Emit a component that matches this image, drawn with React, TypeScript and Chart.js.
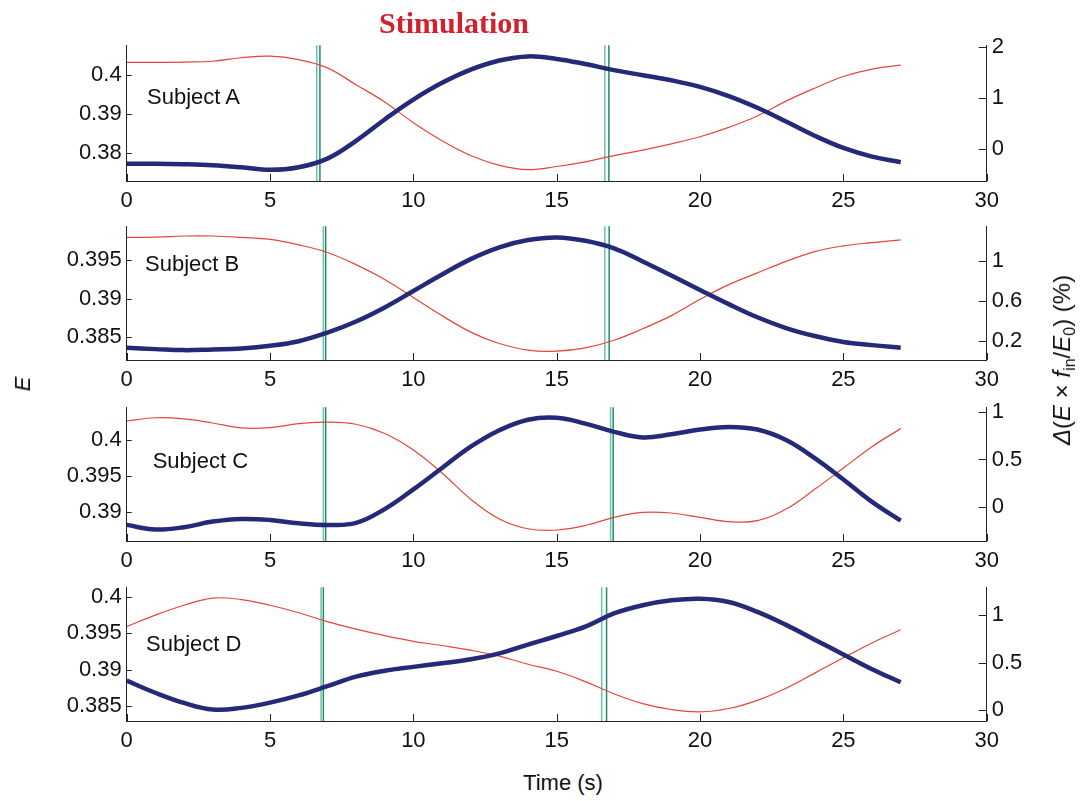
import React, { useEffect, useRef } from "react";
import { Chart, registerables } from "chart.js";
Chart.register(...registerables);

// ---- data ----
const TIME = [0, 1, 2, 3, 4, 5, 6, 7, 8, 9, 10, 11, 12, 13, 14, 15, 16, 17, 18, 19, 20, 21, 22, 23, 24, 25, 26, 27];

const E_A = [0.4032, 0.4032, 0.4033, 0.4035, 0.4044, 0.4048, 0.4039, 0.4018, 0.3975, 0.3931, 0.3878, 0.3832, 0.3794, 0.3769, 0.3758, 0.3766, 0.3778, 0.3794, 0.3808, 0.3824, 0.3842, 0.3866, 0.3895, 0.3933, 0.3966, 0.3996, 0.4015, 0.4025];
const D_A = [-0.29, -0.29, -0.3, -0.32, -0.36, -0.41, -0.36, -0.19, 0.16, 0.58, 0.97, 1.3, 1.56, 1.74, 1.82, 1.77, 1.67, 1.55, 1.45, 1.35, 1.22, 1.04, 0.81, 0.54, 0.26, 0.02, -0.15, -0.26];

const E_B = [0.39791, 0.39794, 0.39809, 0.39809, 0.39791, 0.39765, 0.39694, 0.39596, 0.39439, 0.39247, 0.39013, 0.38779, 0.38566, 0.38418, 0.38333, 0.3832, 0.38362, 0.3846, 0.3861, 0.38779, 0.3899, 0.3918, 0.39332, 0.39481, 0.39608, 0.39681, 0.39723, 0.39758];
const D_B = [0.129, 0.116, 0.106, 0.113, 0.123, 0.149, 0.195, 0.281, 0.393, 0.534, 0.699, 0.864, 1.018, 1.136, 1.209, 1.235, 1.202, 1.126, 0.995, 0.854, 0.709, 0.567, 0.435, 0.327, 0.247, 0.188, 0.156, 0.129];

const E_C = [0.40263, 0.40308, 0.40294, 0.40236, 0.40168, 0.40172, 0.40226, 0.40249, 0.40218, 0.4009, 0.39864, 0.39545, 0.39183, 0.3891, 0.38774, 0.38757, 0.38819, 0.38932, 0.39, 0.38992, 0.38932, 0.38873, 0.38887, 0.39046, 0.39319, 0.39613, 0.39909, 0.40158];
const D_C = [-0.191, -0.24, -0.215, -0.156, -0.128, -0.139, -0.174, -0.191, -0.17, -0.024, 0.184, 0.41, 0.635, 0.809, 0.92, 0.94, 0.878, 0.792, 0.733, 0.767, 0.816, 0.844, 0.816, 0.705, 0.514, 0.288, 0.052, -0.146];

const E_D = [0.39595, 0.39752, 0.39887, 0.39986, 0.39964, 0.39887, 0.39784, 0.39662, 0.39558, 0.39469, 0.39392, 0.39334, 0.3927, 0.39189, 0.39077, 0.3898, 0.38838, 0.38671, 0.38536, 0.38455, 0.38423, 0.38469, 0.38581, 0.38747, 0.38955, 0.39166, 0.39369, 0.3955];
const D_D = [0.31, 0.183, 0.076, 0.007, 0.024, 0.079, 0.155, 0.252, 0.352, 0.414, 0.455, 0.493, 0.535, 0.597, 0.69, 0.78, 0.879, 1.017, 1.103, 1.155, 1.172, 1.138, 1.034, 0.897, 0.741, 0.586, 0.431, 0.293];

const STIM_A = [6.63, 6.74, 16.68, 16.82];
const STIM_B = [6.86, 6.94, 16.68, 16.83];
const STIM_C = [6.86, 6.94, 16.88, 16.97];
const STIM_D = [6.78, 6.86, 16.57, 16.74];

const X_TICKS = [0, 5, 10, 15, 20, 25, 30];
const LEFT_TICKS_A = [0.38, 0.39, 0.4];
const LEFT_TICKS_B = [0.385, 0.39, 0.395];
const LEFT_TICKS_C = [0.39, 0.395, 0.4];
const LEFT_TICKS_D = [0.385, 0.39, 0.395, 0.4];
const RIGHT_TICKS_A = [0, 1, 2];
const RIGHT_TICKS_B = [0.2, 0.6, 1];
const RIGHT_TICKS_C = [0, 0.5, 1];
const RIGHT_TICKS_D = [0, 0.5, 1];

const LEFT_RANGE_A = [0.3729, 0.4076];
const LEFT_RANGE_B = [0.38205, 0.39936];
const LEFT_RANGE_C = [0.38605, 0.40454];
const LEFT_RANGE_D = [0.38297, 0.40135];
const RIGHT_RANGE_A = [-0.63, 2.04];
const RIGHT_RANGE_B = [0.007, 1.348];
const RIGHT_RANGE_C = [-0.361, 1.052];
const RIGHT_RANGE_D = [-0.114, 1.293];

const SUBJECTS = ["Subject A", "Subject B", "Subject C", "Subject D"];

// ---- style ----
const RED = "#e5463a";
const BLUE = "#242a78";
const AXIS = "#222222";
const STIM_COLORS = ["#6cc0b3", "#1f8b60"];
const FONT = "'Liberation Sans', Arial, Helvetica, sans-serif";
const PADT = 16;
const XAX = 34;
const LEFT_W = 126.7;
const RIGHT_W = 93.3;

type PanelProps = {
  e: number[];
  d: number[];
  stim: number[];
  lt: number[];
  rt: number[];
  lr: number[];
  rr: number[];
  top: number;
  height: number;
};

const stimPlugin = (stim: number[]) => ({
  id: "stim",
  beforeDatasetsDraw(chart: any) {
    const { ctx, chartArea, scales } = chart;
    ctx.save();
    ctx.lineWidth = 1.5;
    stim.forEach((v, i) => {
      const px = scales.x.getPixelForValue(v);
      ctx.strokeStyle = STIM_COLORS[i % 2];
      ctx.beginPath();
      ctx.moveTo(px, chartArea.top);
      ctx.lineTo(px, chartArea.bottom);
      ctx.stroke();
    });
    ctx.restore();
  },
});

const tickPlugin = {
  id: "inticks",
  afterDraw(chart: any) {
    const { ctx, scales } = chart;
    const { x, yL, yR } = scales;
    ctx.save();
    ctx.strokeStyle = AXIS;
    ctx.lineWidth = 1;
    ctx.beginPath();
    x.ticks.forEach((t: any) => {
      const px = Math.round(x.getPixelForValue(t.value)) + 0.5;
      ctx.moveTo(px, x.top);
      ctx.lineTo(px, x.top - 7);
    });
    yL.ticks.forEach((t: any) => {
      const py = Math.round(yL.getPixelForValue(t.value)) + 0.5;
      ctx.moveTo(yL.right, py);
      ctx.lineTo(yL.right + 5, py);
    });
    yR.ticks.forEach((t: any) => {
      const py = Math.round(yR.getPixelForValue(t.value)) + 0.5;
      ctx.moveTo(yR.left, py);
      ctx.lineTo(yR.left - 8, py);
    });
    ctx.stroke();
    ctx.restore();
  },
};

function Panel(p: PanelProps) {
  const ref = useRef<HTMLCanvasElement | null>(null);
  useEffect(() => {
    if (!ref.current) return;
    const tickFont = { family: FONT, size: 22 };
    const chart = new Chart(ref.current, {
      type: "line",
      data: {
        datasets: [
          {
            data: TIME.map((t, i) => ({ x: t, y: p.d[i] })),
            yAxisID: "yR",
            borderColor: BLUE,
            borderWidth: 4.5,
            pointRadius: 0,
            tension: 0.4,
            fill: false,
          },
          {
            data: TIME.map((t, i) => ({ x: t, y: p.e[i] })),
            yAxisID: "yL",
            borderColor: RED,
            borderWidth: 1.2,
            pointRadius: 0,
            tension: 0.4,
            fill: false,
          },
        ],
      },
      options: {
        animation: false,
        responsive: false,
        maintainAspectRatio: false,
        devicePixelRatio: 1,
        events: [],
        layout: { padding: { top: PADT, left: 0, right: 0, bottom: 0 } },
        plugins: { legend: { display: false }, tooltip: { enabled: false }, title: { display: false } },
        scales: {
          x: {
            type: "linear",
            min: 0,
            max: 30,
            afterBuildTicks: (s: any) => {
              s.ticks = X_TICKS.map((v) => ({ value: v }));
            },
            afterFit: (s: any) => {
              s.height = XAX;
            },
            grid: { display: false, drawTicks: false },
            border: { display: true, color: AXIS, width: 1 },
            ticks: { padding: 7, font: tickFont, color: "#111", maxRotation: 0, autoSkip: false, callback: (v: any) => String(v) },
          },
          yL: {
            type: "linear",
            position: "left",
            min: p.lr[0],
            max: p.lr[1],
            afterBuildTicks: (s: any) => {
              s.ticks = p.lt.map((v) => ({ value: v }));
            },
            afterFit: (s: any) => {
              s.width = LEFT_W;
            },
            grid: { display: false, drawTicks: false },
            border: { display: true, color: AXIS, width: 1 },
            ticks: { padding: 5, font: tickFont, color: "#111", callback: (v: any) => String(v) },
          },
          yR: {
            type: "linear",
            position: "right",
            min: p.rr[0],
            max: p.rr[1],
            afterBuildTicks: (s: any) => {
              s.ticks = p.rt.map((v) => ({ value: v }));
            },
            afterFit: (s: any) => {
              s.width = RIGHT_W;
            },
            grid: { display: false, drawTicks: false },
            border: { display: true, color: AXIS, width: 1 },
            ticks: { padding: 5, font: tickFont, color: "#111", callback: (v: any) => String(v) },
          },
        },
      } as any,
      plugins: [stimPlugin(p.stim), tickPlugin],
    });
    return () => chart.destroy();
  }, []);
  return (
    <canvas
      ref={ref}
      width={1080}
      height={p.height}
      style={{ position: "absolute", left: 0, top: p.top, width: 1080, height: p.height }}
    />
  );
}

const labelStyle: React.CSSProperties = {
  position: "absolute",
  fontFamily: FONT,
  fontSize: 22,
  lineHeight: "22px",
  color: "#111",
  whiteSpace: "nowrap",
};

export default function App() {
  return (
    <div style={{ position: "fixed", left: 0, top: 0, width: 1080, height: 801, background: "#fff", overflow: "hidden" }}>
      <Panel e={E_A} d={D_A} stim={STIM_A} lt={LEFT_TICKS_A} rt={RIGHT_TICKS_A} lr={LEFT_RANGE_A} rr={RIGHT_RANGE_A} top={27} height={188} />
      <Panel e={E_B} d={D_B} stim={STIM_B} lt={LEFT_TICKS_B} rt={RIGHT_TICKS_B} lr={LEFT_RANGE_B} rr={RIGHT_RANGE_B} top={208} height={186} />
      <Panel e={E_C} d={D_C} stim={STIM_C} lt={LEFT_TICKS_C} rt={RIGHT_TICKS_C} lr={LEFT_RANGE_C} rr={RIGHT_RANGE_C} top={389} height={186} />
      <Panel e={E_D} d={D_D} stim={STIM_D} lt={LEFT_TICKS_D} rt={RIGHT_TICKS_D} lr={LEFT_RANGE_D} rr={RIGHT_RANGE_D} top={569} height={186} />

      <div style={{ ...labelStyle, left: 147, top: 86 }}>{SUBJECTS[0]}</div>
      <div style={{ ...labelStyle, left: 145, top: 253 }}>{SUBJECTS[1]}</div>
      <div style={{ ...labelStyle, left: 152.7, top: 450 }}>{SUBJECTS[2]}</div>
      <div style={{ ...labelStyle, left: 146, top: 633 }}>{SUBJECTS[3]}</div>

      <div
        style={{
          position: "absolute",
          left: 454,
          top: 8,
          transform: "translateX(-50%)",
          fontFamily: "'Liberation Serif', 'Times New Roman', serif",
          fontWeight: "bold",
          fontSize: 30,
          lineHeight: "30px",
          color: "#d3202f",
          whiteSpace: "nowrap",
        }}
      >
        Stimulation
      </div>

      <div style={{ ...labelStyle, left: 563, top: 772, transform: "translateX(-50%)" }}>Time (s)</div>

      <div
        style={{
          ...labelStyle,
          left: 23,
          top: 384,
          fontStyle: "italic",
          transform: "translate(-50%, -50%) rotate(-90deg)",
        }}
      >
        E
      </div>

      <div
        style={{
          ...labelStyle,
          left: 1066,
          top: 360,
          fontSize: 24,
          lineHeight: "24px",
          transform: "translate(-50%, -50%) rotate(-90deg)",
        }}
      >
        <i>Δ</i>(<i>E</i> × <i>f</i>
        <sub style={{ fontSize: 16, verticalAlign: "-5px" }}>in</sub>/<i>E</i>
        <sub style={{ fontSize: 16, verticalAlign: "-5px" }}>0</sub>) (%)
      </div>
    </div>
  );
}
